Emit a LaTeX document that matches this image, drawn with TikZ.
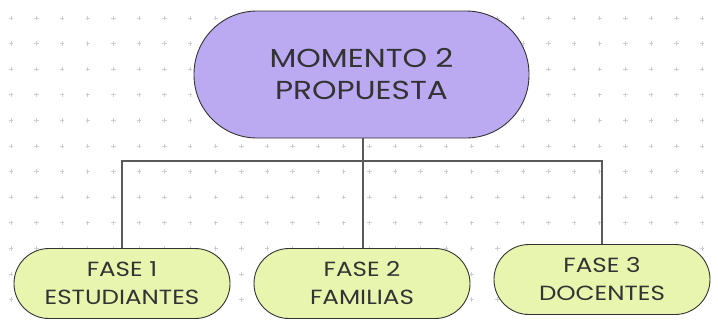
\documentclass[tikz,border=0pt]{standalone}
\usepackage{fontspec}
\setmainfont{Poppins}[FakeStretch=1.2]
\definecolor{purplefill}{HTML}{BBAAF2}
\definecolor{greenfill}{HTML}{E8F5AE}
\definecolor{edgecol}{HTML}{333333}
\definecolor{linecol}{HTML}{5A5A5A}
\definecolor{gridcol}{HTML}{CDCDD6}
\definecolor{textcol}{HTML}{333333}
\tikzset{
  mainbox/.style={draw=edgecol, line width=0.9bp, fill=purplefill, rounded corners=63bp,
    minimum width=335bp, minimum height=127bp, align=center, text=textcol,
    font=\fontsize{26bp}{32bp}\selectfont, inner sep=0pt},
  phasebox/.style={draw=edgecol, line width=0.9bp, fill=greenfill, rounded corners=35bp,
    minimum width=216bp, minimum height=70bp, align=center, text=textcol,
    font=\fontsize{20.5bp}{28bp}\selectfont, inner sep=0pt},
  link/.style={draw=linecol, line width=1.4bp},
  gridmark/.style={draw=gridcol, line width=0.7bp}
}
\begin{document}
\begin{tikzpicture}[x=1bp,y=-1bp]
\useasboundingbox (0,0) rectangle (718,320);
\fill[white] (0,0) rectangle (718,320);
% background grid of plus marks
\foreach \i in {0,...,27} {
  \foreach \j in {0,...,12} {
    \pgfmathsetmacro{\gx}{11+25.6*\i}
    \pgfmathsetmacro{\gy}{18+25.6*\j}
    \draw[gridmark] (\gx-2.2,\gy) -- (\gx+2.2,\gy) (\gx,\gy-2.2) -- (\gx,\gy+2.2);
  }
}
\node[mainbox] (top) at (361.5,74.5) {MOMENTO 2\\PROPUESTA};
\node[phasebox] (f1) at (122,283.5) {FASE 1\\ESTUDIANTES};
\node[phasebox] (f2) at (362,283.5) {FASE 2\\FAMILIAS};
\node[phasebox] (f3) at (602,279.5) {FASE 3\\DOCENTES};
\coordinate (bus) at (363,161);
\draw[link] (top.south -| bus) -- (bus);
\draw[link] (f1.north) |- (bus);
\draw[link] (f3.north) |- (bus);
\draw[link] (f2.north -| bus) -- (bus);
\end{tikzpicture}
\end{document}
